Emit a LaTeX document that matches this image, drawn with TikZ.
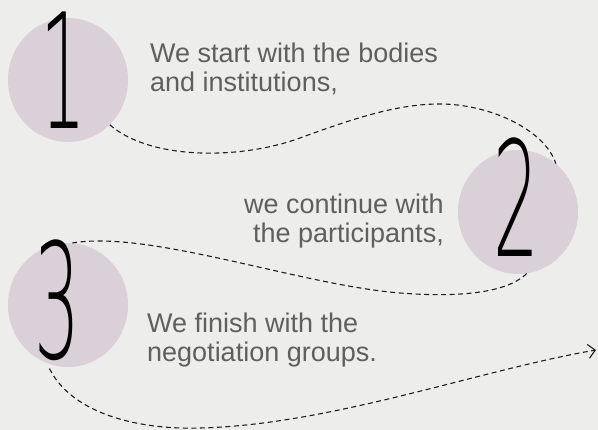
\documentclass[tikz,border=0pt]{standalone}
\usepackage{fontspec}
\setmainfont{Liberation Sans}
\newfontfamily\handfont{DejaVu Sans ExtraLight}
\usetikzlibrary{positioning,shapes.geometric,arrows.meta}
\definecolor{PaperGrey}{RGB}{237,237,235}
\definecolor{BlobMauve}{RGB}{218,208,215}
\definecolor{InkGrey}{RGB}{95,95,95}
\definecolor{TrailInk}{RGB}{30,30,30}

\begin{document}
\begin{tikzpicture}[x=1pt, y=-1pt,
  blob/.style={ellipse, fill=BlobMauve, minimum width=120pt, minimum height=124pt, inner sep=0pt},
  digit/.style={font=\handfont\fontsize{160}{160}\selectfont, text=black, xscale=0.45, inner sep=0pt},
  note/.style={font=\fontsize{27}{29}\selectfont, text=InkGrey, inner sep=0pt},
  trail/.style={draw=TrailInk, line width=1.1pt, dash pattern=on 5pt off 3.5pt}
]
  \fill[PaperGrey] (0,0) rectangle (598,430);
  \useasboundingbox (0,0) rectangle (598,430);

  % blobs and numbers
  \node[blob] (one) at (68,80) {};
  \node[blob] (two) at (518,212) {};
  \node[blob] (three) at (68,305) {};
  \node[digit] (numone) at (63,70) {1};
  \node[digit] (numtwo) at (516,197) {2};
  \node[digit] (numthree) at (57,300) {3};

  % notes
  \node[note, anchor=north west, align=left] (startnote) at (150,43) {We start with the bodies\\and institutions,};
  \node[note, anchor=north east, align=right] (contnote) at (444,193.5) {we continue with\\the participants,};
  \node[note, anchor=north west, align=left] (finishnote) at (147,312.5) {We finish with the\\negotiation groups.};

  \coordinate (exit) at (596,350);

  % dashed trails
  \draw[trail] (one.-47) .. controls (150,160) and (240,160) .. (300,138)
    .. controls (360,116) and (400,104) .. (440,104)
    .. controls (490,104) and (545,130) .. (two.52);
  \draw[trail] (two.-82) .. controls (505,295) and (450,297) .. (400,293)
    .. controls (300,285) and (150,230) .. (three.86);
  \draw[trail, shorten <=6pt, -{Straight Barb[length=7pt,width=14pt]}] (three.-110) .. controls (70,410) and (130,430) .. (200,428)
    .. controls (330,425) and (480,370) .. (exit);
\end{tikzpicture}
\end{document}
